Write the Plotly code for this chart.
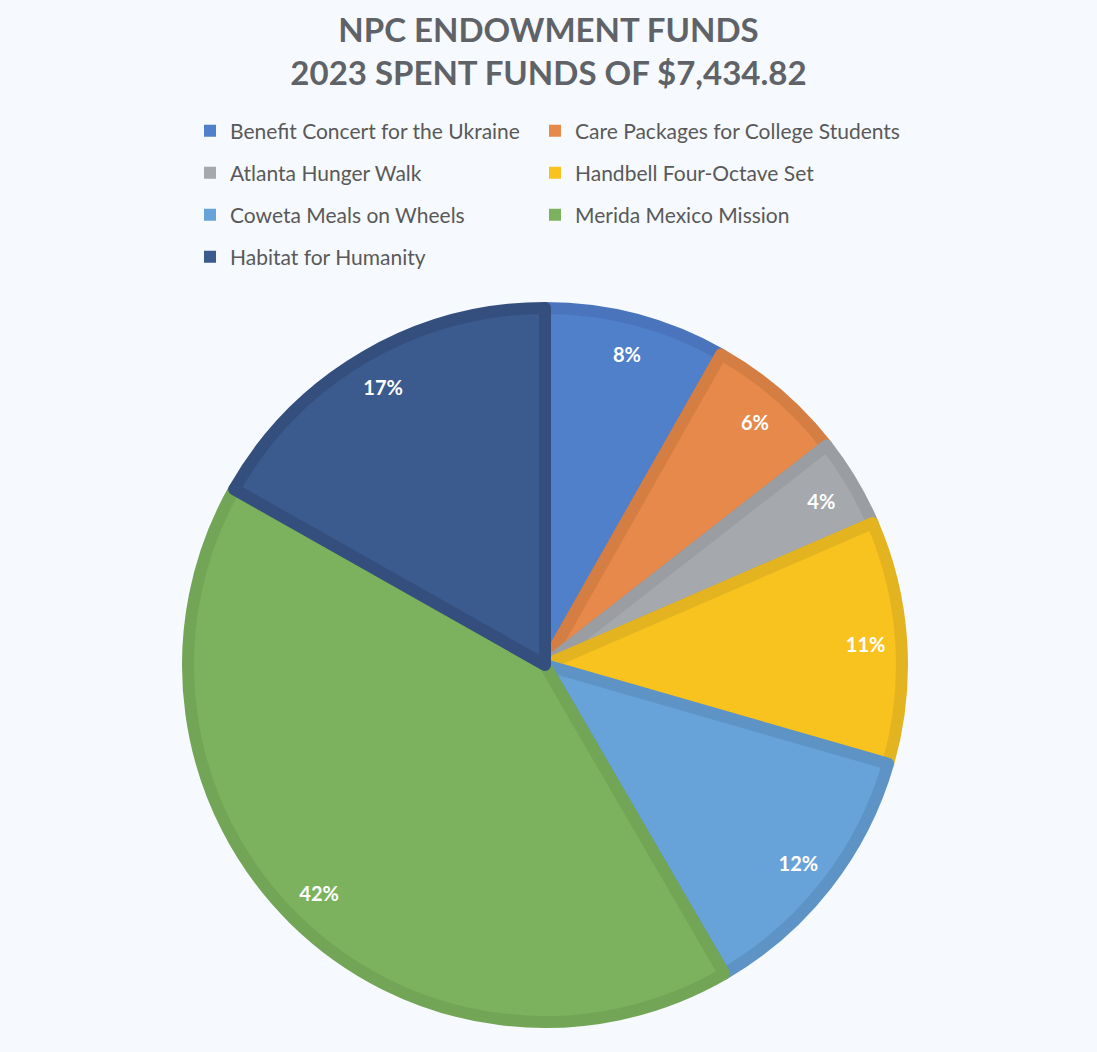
import plotly.graph_objects as go

# spent funds 2023 (total $7,434.82)
projects = ["Benefit Concert for the Ukraine", "Care Packages for College Students",
            "Atlanta Hunger Walk", "Handbell Four-Octave Set",
            "Coweta Meals on Wheels", "Merida Mexico Mission", "Habitat for Humanity"]
spent = [610.00, 465.00, 300.00, 815.00, 905.00, 3090.00, 1249.82]

fills = ['#5180CA', '#E6894A', '#A5A8AC', '#F8C21F', '#67A3D8', '#7CB25D', '#3B5A8D']
edges = ['#4A75BC', '#D57E44', '#9A9DA1', '#E3B420', '#5E93C6', '#72A556', '#344F7E']

BG = '#F6F9FD'
W, H = 1097, 1052
cx, cy, r = 545, 665, 357
dom_x = [(cx - r) / W, (cx + r) / W]
dom_y = [(H - cy - r) / H, (H - cy + r) / H]

fig = go.Figure()

# slices
fig.add_trace(go.Pie(labels=projects, values=spent, sort=False, direction='clockwise',
                     marker=dict(colors=fills, line=dict(color=edges, width=12)),
                     textinfo='none', showlegend=False, domain=dict(x=dom_x, y=dom_y)))

# percent labels, put in an outer ring so they sit near the rim like in Excel
fig.add_trace(go.Pie(labels=projects, values=spent, sort=False, direction='clockwise', hole=0.8,
                     marker=dict(colors=['rgba(0,0,0,0)'] * len(spent), line=dict(width=0)),
                     texttemplate='%{percent:.0%}', textposition='inside',
                     insidetextorientation='horizontal',
                     textfont=dict(family='Lato', size=20, color='white', weight='bold'),
                     hoverinfo='skip', showlegend=False, domain=dict(x=dom_x, y=dom_y)))

# legend: 2 columns x 4 rows, one small legend per entry
col_x = [190, 535]
rows_y = [131, 173, 215, 257]
legend_style = dict(orientation='h', xanchor='left', yanchor='middle',
                    bgcolor='rgba(0,0,0,0)', borderwidth=0,
                    font=dict(family='Lato', size=21, color='#595959'))
for i, (name, fill) in enumerate(zip(projects, fills)):
    key = 'legend' if i == 0 else f'legend{i + 1}'
    fig.add_trace(go.Scatter(x=[None], y=[None], mode='markers', name=name,
                             marker=dict(symbol='square', size=12, color=fill, line=dict(width=0)),
                             legend=key, hoverinfo='skip'))
    fig.update_layout({key: dict(x=col_x[i % 2] / W, y=1 - rows_y[i // 2] / H, **legend_style)})

fig.update_layout(
    width=W, height=H,
    margin=dict(l=0, r=0, t=0, b=0),
    paper_bgcolor=BG, plot_bgcolor=BG,
    xaxis=dict(visible=False), yaxis=dict(visible=False),
    title=dict(text="NPC ENDOWMENT FUNDS<br>2023 SPENT FUNDS OF $7,434.82",
               x=0.5, xanchor='center', y=1 - 42 / H, yanchor='top', yref='container',
               font=dict(family='Lato', size=33, color='#5F6368', weight='bold')),
)

# drop the default page margin so the figure fills the window
fig.write_html("out.html", config=dict(displayModeBar=False),
               post_script=f"document.body.style.margin='0';document.body.style.background='{BG}';")
